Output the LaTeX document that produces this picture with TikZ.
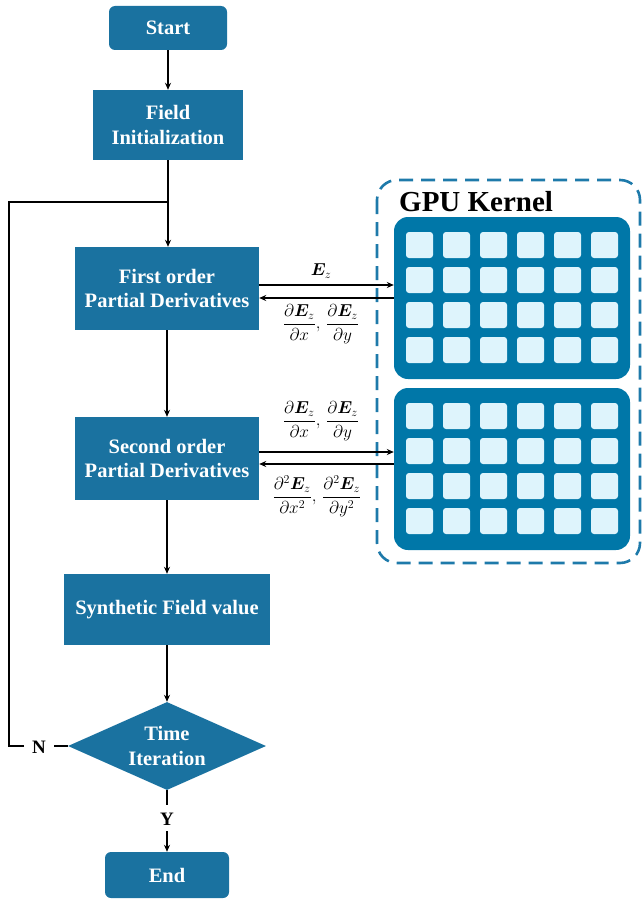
\documentclass[tikz,border=0pt]{standalone}
\usepackage{fontspec}
\setmainfont{Liberation Serif}
\usepackage{amsmath,bm}
\usetikzlibrary{arrows.meta,shapes.geometric,calc}
\definecolor{boxblue}{RGB}{26,114,160}
\definecolor{kblue}{RGB}{0,119,168}
\definecolor{cellc}{RGB}{222,244,252}
\definecolor{dashc}{RGB}{30,122,170}
\begin{document}
\begin{tikzpicture}[x=1pt,y=-1pt,
  flowbox/.style={fill=boxblue,text=white,font=\fontsize{20.5}{24.5}\selectfont\bfseries,align=center,inner sep=0pt},
  conn/.style={line width=1.5pt,draw=black},
  arr/.style={conn,-{Stealth[length=7pt,width=6pt]}},
  lbl/.style={font=\fontsize{19}{22}\selectfont\bfseries,inner sep=0pt},
  mlbl/.style={font=\fontsize{18}{21}\selectfont,inner sep=0pt}]
\useasboundingbox (0,0) rectangle (644,899);
% flow nodes
\node[flowbox,rounded corners=6pt,minimum width=118pt,minimum height=44pt] (start) at (168,28) {Start};
\node[flowbox,minimum width=150pt,minimum height=70pt] (init) at (168,125) {Field\\Initialization};
\node[flowbox,minimum width=184pt,minimum height=83pt] (first) at (167,288.5) {First order\\Partial Derivatives};
\node[flowbox,minimum width=184pt,minimum height=83pt] (second) at (167,458.5) {Second order\\Partial Derivatives};
\node[flowbox,minimum width=206pt,minimum height=71pt] (synth) at (167,609.5) {Synthetic Field value};
\node[flowbox,diamond,aspect=2.25,minimum width=198pt,minimum height=88pt] (iter) at (167,746) {Time\\Iteration};
\node[flowbox,rounded corners=6pt,minimum width=124pt,minimum height=46pt] (end) at (167,875) {End};
\node[lbl] (N) at (39,747) {N};
\node[lbl] (Y) at (167,819) {Y};
\coordinate (junc) at (168,202);
\coordinate (cornerA) at (9,202);
\coordinate (cornerB) at (9,746);
% flow connectors
\draw[arr] (start) -- (init);
\draw[conn] (init.south) -- (junc);
\draw[arr] (junc) -- (junc |- first.north);
\draw[arr] (first.south -| 167,0) -- (second.north -| 167,0);
\draw[arr] (second) -- (synth);
\draw[arr] (synth) -- (iter.north);
\draw[conn] (iter.south) -- (167,805);
\draw[arr] (167,831) -- (end.north);
\draw[conn] (iter.west) -- (54,746);
\draw[conn] (24,746) -- (cornerB) -- (cornerA) -- (junc);
% GPU kernel frame
\draw[dashc,line width=2.6pt,dash pattern=on 14pt off 8pt,rounded corners=20pt] (377,180) rectangle (640,563);
\node[font=\fontsize{29}{32}\selectfont\bfseries,anchor=west,inner sep=0pt] (gpu) at (399,202) {GPU Kernel};
% kernel blocks
\node[fill=kblue,rounded corners=14pt,minimum width=236pt,minimum height=162pt,inner sep=0pt] (k1) at (512,298) {};
\node[fill=kblue,rounded corners=14pt,minimum width=236pt,minimum height=162pt,inner sep=0pt] (k2) at (512,469) {};
\foreach \c in {0,...,5}{
  \foreach \r in {0,...,3}{
    \fill[cellc,rounded corners=3pt] (406+37*\c,232+35*\r) rectangle ++(27,26);
    \fill[cellc,rounded corners=3pt] (406+37*\c,403+35*\r) rectangle ++(27,26);
  }
}
% data arrows
\draw[arr] (first.east |- 0,285) -- (k1.west |- 0,285);
\draw[arr] (k1.west |- 0,298) -- (first.east |- 0,298);
\draw[arr] (second.east |- 0,452) -- (k2.west |- 0,452);
\draw[arr] (k2.west |- 0,464) -- (second.east |- 0,464);
\node[mlbl] (l1) at (321,271) {$\bm{E}_z$};
\node[mlbl] (l2) at (321,324) {$\dfrac{\partial \bm{E}_z}{\partial x},\,\dfrac{\partial \bm{E}_z}{\partial y}$};
\node[mlbl] (l3) at (321,421) {$\dfrac{\partial \bm{E}_z}{\partial x},\,\dfrac{\partial \bm{E}_z}{\partial y}$};
\node[mlbl] (l4) at (317,496) {$\dfrac{\partial^2 \bm{E}_z}{\partial x^2},\,\dfrac{\partial^2 \bm{E}_z}{\partial y^2}$};
\end{tikzpicture}
\end{document}
